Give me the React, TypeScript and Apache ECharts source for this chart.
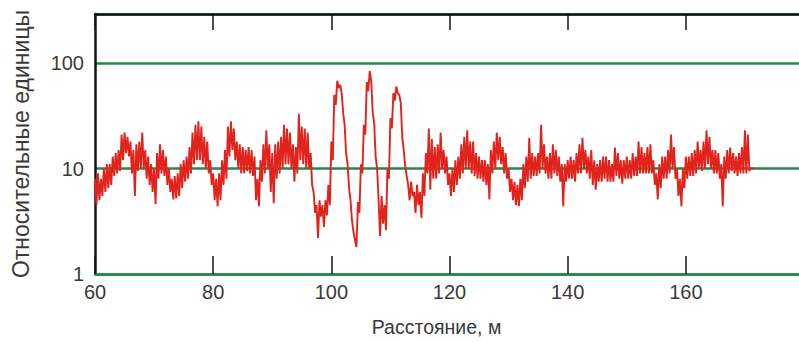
import { useEffect, useRef } from "react";
import * as echarts from "echarts";

// Sampling grid of the trace (metres): one reading every 0.5 m from 60 m to 171 m
const START_M = 60;
const STEP_M = 0.5;

// Upper edge of the noisy trace (relative units)
const upper: number[] = [
  8, 9, 8, 10, 11, 11, 13, 14, 15, 21, // 60-64.5
  22, 20, 18, 15, 17, 18, 22, 15, 13, 11, // 65-69.5
  10, 14, 17, 15, 13, 10, 8, 8.5, 9, 11, // 70-74.5
  12, 13, 16, 22, 26, 28, 25, 20, 18, 12, // 75-79.5
  9, 8, 9, 12, 15, 25, 28, 24, 18, 17, // 80-84.5
  16, 15, 16, 15, 13, 8, 12, 17, 23, 17, // 85-89.5
  14, 17, 18, 20, 26, 24, 22, 17, 16, 33, // 90-94.5
  25, 24, 22, 14, 6, 4.5, 5, 4.5, 5, 7, // 95-99.5
  18, 50, 68, 62, 34, 14, 6.5, 3.2, 2.1, 4.8, // 100-104.5
  11, 26, 66, 84, 34, 13, 5, 5.5, 4.5, 10, // 105-109.5
  30, 52, 60, 50, 20, 10.5, 7, 7.5, 6, 7, // 110-114.5
  6, 9, 14, 24, 19, 16, 17, 22, 15, 13, // 115-119.5
  9, 10, 12, 13, 17, 20, 23, 18, 18, 14, // 120-124.5
  13, 12, 12, 11, 15, 18, 22, 20, 16, 14, // 125-129.5
  10, 8, 7.5, 7, 8, 11, 13, 19.6, 14, 13, // 130-134.5
  14, 26, 17, 13, 14, 17, 15, 13, 11, 11, // 135-139.5
  12, 13, 12, 14, 17, 19.6, 15, 13, 15, 12, // 140-144.5
  11, 12, 13, 13, 12, 11, 15.8, 14, 12, 12, // 145-149.5
  13, 12, 14, 13, 18, 16, 14, 16, 17, 12, // 150-154.5
  9, 11, 13, 13, 15, 21, 16, 10, 8, 10, // 155-159.5
  13, 13, 14, 15, 18, 15, 18, 23, 20, 15, // 160-164.5
  15, 14, 11, 13, 15, 15.8, 14, 13, 14, 16, // 165-169.5
  23, 21, 10, // 170-171
];

// Lower edge of the noisy trace (relative units)
const lower: number[] = [
  4.5, 5, 5.5, 6, 6.5, 7, 8.5, 9, 9.5, 12, // 60-64.5
  14, 13, 9, 5.5, 9.5, 10, 10, 8, 7, 6, // 65-69.5
  4.6, 8, 9, 8.5, 7, 6, 5.1, 5.2, 5.5, 6.5, // 70-74.5
  7.5, 8, 9, 11, 12, 12, 11, 10, 9, 7, // 75-79.5
  5, 4.4, 5, 7, 8, 13, 15, 12, 10, 9, // 80-84.5
  9, 9.5, 9, 8.5, 5, 4.4, 7.5, 9, 10, 6, // 85-89.5
  4.7, 8, 9, 10, 11, 11, 10, 7.5, 9, 12, // 90-94.5
  11, 10, 10, 7, 3.8, 2.2, 3.5, 2.8, 3.6, 4.5, // 95-99.5
  12, 40, 58, 52, 26, 11, 5, 2.5, 1.8, 3.8, // 100-104.5
  9, 21, 54, 68, 27, 10, 2.3, 3, 2.6, 8, // 105-109.5
  24, 44, 52, 42, 15, 8.5, 5, 5.5, 3.8, 4.5, // 110-114.5
  3.4, 5.5, 9, 6.3, 8, 8, 9, 10, 9, 7, // 115-119.5
  5.5, 6, 7, 8, 9, 10, 10, 9, 8.5, 8, // 120-124.5
  8, 7.5, 7, 5.1, 9, 10, 12, 11, 9, 8, // 125-129.5
  6, 5, 4.5, 4.4, 5, 6.5, 7.5, 8, 8.5, 8.5, // 130-134.5
  9, 10, 9, 8, 8, 9, 8.5, 7.5, 4.4, 7.5, // 135-139.5
  8, 8, 7.5, 9, 9, 10, 9, 8, 7, 6.3, // 140-144.5
  7.5, 7.5, 8, 7.5, 7.5, 7.5, 8.5, 8, 7.2, 8, // 145-149.5
  8, 8, 8.5, 8.5, 9, 9, 9, 9, 9, 7, // 150-154.5
  5.1, 6.5, 8, 8, 9, 10, 8, 5.5, 4.4, 6.5, // 155-159.5
  8, 8.5, 8.5, 9, 10, 9.5, 10, 11, 10, 9, // 160-164.5
  9, 8, 4.4, 8, 9, 9.5, 9, 8.5, 9, 9, // 165-169.5
  9, 9.5, 10, // 170-171
];

const X_MIN = 60;
const X_MAX = 180;
const X_INTERVAL = 20;
const Y_MIN = 1;
const Y_MAX = 292;

const xTitle = "Расстояние, м";
const yTitle = "Относительные единицы";

const GREEN = "#23894c";
const RED = "#e2231c";
const BLACK = "#151515";
const TEXT = "#3a3a3a";
const FONT = "'Liberation Sans', Arial, Helvetica, sans-serif";

export default function App() {
  const ref = useRef<HTMLDivElement>(null);

  useEffect(() => {
    if (!ref.current) return;
    const chart = echarts.init(ref.current, null, { renderer: "svg" });

    // The trace is drawn as a band: upper edge, then lower edge a quarter step later
    const data: number[][] = [];
    upper.forEach((u, i) => {
      const d = START_M + i * STEP_M;
      data.push([d, u]);
      if (i < upper.length - 1) data.push([d + STEP_M / 2, lower[i]]);
      else data.push([d + 0.6, lower[i]]);
    });

    chart.setOption({
      animation: false,
      backgroundColor: "#ffffff",
      textStyle: { fontFamily: FONT },
      grid: { left: 95, right: 0, top: 14, bottom: 63, containLabel: false },
      xAxis: [
        {
          type: "value",
          min: X_MIN,
          max: X_MAX,
          interval: X_INTERVAL,
          position: "bottom",
          axisLine: { show: true, onZero: false, lineStyle: { color: GREEN, width: 2.5 } },
          axisTick: { show: true, inside: true, length: 18, lineStyle: { color: BLACK, width: 1.5 } },
          axisLabel: { color: TEXT, fontSize: 20, margin: 8, fontFamily: FONT, showMaxLabel: false },
          splitLine: { show: false },
          name: xTitle,
          nameLocation: "middle",
          nameGap: 43,
          nameTextStyle: { color: TEXT, fontSize: 19.5, fontFamily: FONT, padding: [0, 26, 0, 0] },
        },
        {
          type: "value",
          min: X_MIN,
          max: X_MAX,
          interval: X_INTERVAL,
          position: "top",
          z: 5,
          axisLine: { show: true, onZero: false, lineStyle: { color: BLACK, width: 2.5 } },
          axisTick: { show: true, inside: true, length: 16, lineStyle: { color: BLACK, width: 1.5 } },
          axisLabel: { show: false },
          splitLine: { show: false },
        },
      ],
      yAxis: {
        type: "log",
        logBase: 10,
        min: Y_MIN,
        max: Y_MAX,
        axisLine: { show: true, lineStyle: { color: BLACK, width: 2.5 } },
        axisTick: { show: false },
        axisLabel: { color: TEXT, fontSize: 20, margin: 11, showMaxLabel: false, fontFamily: FONT },
        splitLine: { show: true, lineStyle: { color: GREEN, width: 2.5 } },
        name: yTitle,
        nameLocation: "middle",
        nameGap: 63,
        nameTextStyle: { color: TEXT, fontSize: 23, fontFamily: FONT },
      },
      series: [
        {
          type: "line",
          xAxisIndex: 0,
          data,
          symbol: "none",
          showSymbol: false,
          lineStyle: { color: RED, width: 1.9 },
          z: 3,
        },
      ],
    });

    return () => chart.dispose();
  }, []);

  return (
    <div style={{ position: "fixed", left: 0, top: 0, width: 799, height: 342, overflow: "hidden", background: "#fff" }}>
      <div ref={ref} style={{ width: 804, height: 342 }} />
    </div>
  );
}
